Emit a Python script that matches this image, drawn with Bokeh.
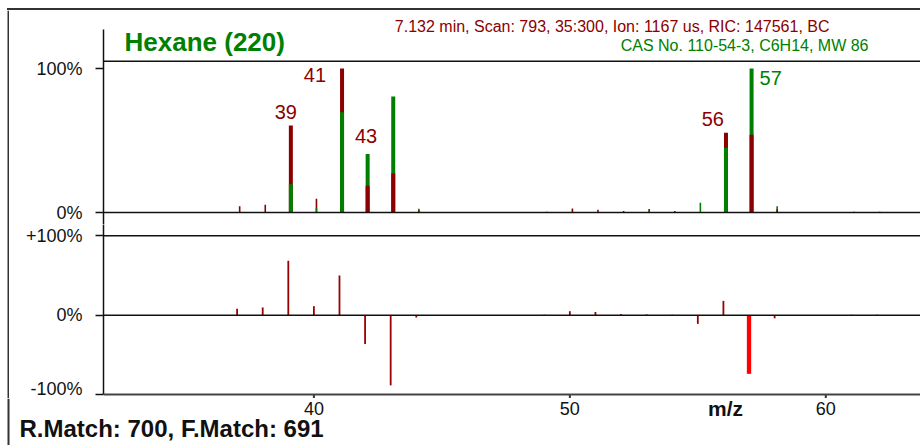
import numpy as np
from bokeh.plotting import figure
from bokeh.layouts import column, row
from bokeh.models import ColumnDataSource, Range1d, FixedTicker, Span, Label, BoxAnnotation, Div
from bokeh.embed import file_html
from bokeh.resources import INLINE

# ---- spectrum data (relative intensity, %) ----
mz = [37, 38, 39, 40, 41, 42, 43, 44, 49, 50, 51, 52, 53, 54, 55, 56, 57, 58, 61, 62]
sample = [4.3, 5.4, 60.4, 9.6, 100.0, 18.5, 27.0, 1.5, 0.5, 2.7, 1.9, 1.0, 2.4, 1.0,
          0.0, 55.3, 54.0, 2.3, 0.5, 0.5]
library = [0.0, 0.0, 19.7, 3.0, 69.7, 40.7, 80.5, 2.6, 0.0, 0.0, 0.0, 0.0, 1.5, 0.0,
           6.8, 45.0, 100.0, 4.3, 0.0, 0.0]
difference = [8.0, 9.7, 68.5, 11.3, 50.0, -36.5, -88.5, -3.0, 0.5, 5.0, 4.0, 1.5, 1.0, 0.5,
              -11.0, 18.0, -74.0, -4.0, 0.5, 0.5]
highlight_mz = 57

peak_labels = [39, 41, 43, 56, 57]
x_ticks = [40, 50, 60]
top_tick_labels = {0: "0%", 100: "100%"}
diff_tick_labels = {-100: "-100%", 0: "0%", 100: "+100%"}

compound = "Hexane (220)"
scan_info = "7.132 min, Scan: 793, 35:300, Ion: 1167 us, RIC: 147561, BC"
cas_info = "CAS No. 110-54-3, C6H14, MW 86"
match_info = "R.Match: 700, F.Match: 691"
x_title = "m/z"

# ---- styling ----
FONT = "Liberation Sans"
SAMPLE_COLOR = "#8b0000"
LIB_COLOR = "#008000"
DIFF_COLOR = "#9a0000"
HIGHLIGHT_COLOR = "#ff0000"
INK = "#111111"
FRAME_INK = "#333333"

W = 920                 # page width
PAD_L, PAD_T = 9, 10    # outer frame strips
MAIN_W = W - PAD_L
AXIS_W = 94             # room for the y axes
TOP_H, BOT_H, FOOT_H = 214, 174, 47
X_RANGE = (31.78, 63.70)
TOP_SHIFT = 0.1         # stick spectrum is drawn slightly right of the tick grid
TOP_BOX = 105           # upper edge of the spectrum box, in %
DIFF_RANGE = (-105.04, 114.24)

# label placement: (align, x offset px, y offset px) relative to the peak top
label_place = {39: ("center", -5, 14), 41: ("right", -16, -6), 43: ("right", -16, -39),
               56: ("right", -2, 14), 57: ("left", 8, -9)}
label_colors = {39: SAMPLE_COLOR, 41: SAMPLE_COLOR, 43: SAMPLE_COLOR, 56: SAMPLE_COLOR, 57: LIB_COLOR}


def style_common(p):
    p.grid.visible = False
    p.outline_line_color = None
    p.background_fill_color = "white"
    p.border_fill_color = "white"


def bare(width, height, xr, yr):
    p = figure(width=width, height=height, x_range=xr, y_range=yr,
               output_backend="svg", toolbar_location=None,
               x_axis_location=None, y_axis_location=None,
               min_border_left=0, min_border_right=0, min_border_top=0, min_border_bottom=0)
    style_common(p)
    return p


def style_yaxis(ax, labels):
    ax.ticker = FixedTicker(ticks=list(labels.keys()))
    ax.major_label_overrides = labels
    ax.major_tick_in = 0
    ax.major_tick_out = 8
    ax.minor_tick_line_color = None
    ax.major_tick_line_width = 1.5
    ax.major_tick_line_color = INK
    ax.axis_line_width = 1.5
    ax.axis_line_color = INK
    ax.major_label_standoff = 13
    ax.major_label_text_font = FONT
    ax.major_label_text_font_size = "18px"
    ax.major_label_text_color = INK


# ---- outer frame lines ----
rule_top = Div(width=W - 7, height=2, margin=(PAD_T - 2, 0, 0, 7),
               styles={"background-color": FRAME_INK})
strip_left = bare(PAD_L, TOP_H + BOT_H, Range1d(0, PAD_L), Range1d(0, TOP_H + BOT_H))
strip_left.add_layout(BoxAnnotation(left=7, right=PAD_L,
                                    fill_color=FRAME_INK, fill_alpha=1, line_color=None))

# ---- upper panel: sample vs. library spectrum ----
top = figure(width=MAIN_W, height=TOP_H,
             x_range=Range1d(X_RANGE[0] - TOP_SHIFT, X_RANGE[1] - TOP_SHIFT),
             y_range=Range1d(-8.33, 140.28),
             output_backend="svg", toolbar_location=None, x_axis_location=None,
             min_border_left=AXIS_W, min_border_right=0, min_border_top=0, min_border_bottom=0)
style_common(top)
style_yaxis(top.yaxis[0], top_tick_labels)
top.yaxis[0].bounds = (-8.33, 127.08)

s = np.array(sample)
lib = np.array(library)
back = np.maximum(s, lib)
front = np.minimum(s, lib)
sample_on_top = s >= lib
bar_w = np.where(back >= 10, 4.0, 1.6)
bars = ColumnDataSource(dict(
    x=mz, zero=[0] * len(mz), back=back, front=front, w=bar_w,
    back_color=np.where(sample_on_top, SAMPLE_COLOR, LIB_COLOR),
    front_color=np.where(sample_on_top, LIB_COLOR, SAMPLE_COLOR),
))
top.segment(x0="x", y0="zero", x1="x", y1="back", line_color="back_color", line_width="w", source=bars)
top.segment(x0="x", y0="zero", x1="x", y1="front", line_color="front_color", line_width="w", source=bars)

top.add_layout(Span(location=0, dimension="width", line_color=INK, line_width=1.5))
top.add_layout(Span(location=TOP_BOX, dimension="width", line_color=INK, line_width=1.5))

for m in peak_labels:
    i = mz.index(m)
    align, dx, dy = label_place[m]
    top.add_layout(Label(x=m, y=max(sample[i], library[i]), text=str(m), x_offset=dx, y_offset=dy,
                         text_align=align, text_baseline="middle", text_font=FONT,
                         text_font_size="20px", text_color=label_colors[m]))

top.add_layout(Label(x=21, y=183, x_units="screen", y_units="screen", text=compound,
                     text_font=FONT, text_font_size="26px", text_font_style="bold",
                     text_color=LIB_COLOR, text_baseline="middle"))
top.add_layout(Label(x=726, y=198, x_units="screen", y_units="screen", text=scan_info,
                     text_font=FONT, text_font_size="16px", text_color=SAMPLE_COLOR,
                     text_align="right", text_baseline="middle"))
top.add_layout(Label(x=765, y=179, x_units="screen", y_units="screen", text=cas_info,
                     text_font=FONT, text_font_size="16px", text_color=LIB_COLOR,
                     text_align="right", text_baseline="middle"))

# ---- lower panel: difference spectrum ----
bot = figure(width=MAIN_W, height=BOT_H, x_range=Range1d(*X_RANGE), y_range=Range1d(*DIFF_RANGE),
             output_backend="svg", toolbar_location=None, x_axis_location=None,
             min_border_left=AXIS_W, min_border_right=0, min_border_top=0, min_border_bottom=0)
style_common(bot)
style_yaxis(bot.yaxis[0], diff_tick_labels)
bot.yaxis[0].bounds = (-100, DIFF_RANGE[1])

is_hl = np.array(mz) == highlight_mz
diff_src = ColumnDataSource(dict(
    x=mz, zero=[0] * len(mz), d=difference,
    c=np.where(is_hl, HIGHLIGHT_COLOR, DIFF_COLOR),
    w=np.where(is_hl, 4.3, 1.8),
))
bot.add_layout(Span(location=0, dimension="width", line_color=INK, line_width=1.5))
bot.add_layout(Span(location=100, dimension="width", line_color=INK, line_width=1.5))
bot.add_layout(Span(location=-100, dimension="width", line_color="#444444", line_width=2))
bot.segment(x0=x_ticks, y0=-100, x1=x_ticks, y1=DIFF_RANGE[0], line_color=FRAME_INK, line_width=2)
bot.segment(x0="x", y0="zero", x1="x", y1="d", line_color="c", line_width="w", source=diff_src)

# ---- footer: m/z tick labels, axis title and match scores ----
px_per_unit = (MAIN_W - AXIS_W) / (X_RANGE[1] - X_RANGE[0])
foot = bare(W, FOOT_H, Range1d(X_RANGE[0] - (PAD_L + AXIS_W) / px_per_unit, X_RANGE[1]), Range1d(0, 1))
foot.add_layout(BoxAnnotation(left=7, right=PAD_L, left_units="screen", right_units="screen",
                              fill_color=FRAME_INK, fill_alpha=1, line_color=None))
for t in x_ticks:
    foot.add_layout(Label(x=t, y=37, y_units="screen", text=str(t), text_font=FONT,
                          text_font_size="18px", text_color=INK, text_align="center",
                          text_baseline="middle"))
foot.add_layout(Label(x=725, y=37, x_units="screen", y_units="screen", text=x_title,
                      text_font=FONT, text_font_size="21px", text_font_style="bold",
                      text_color=INK, text_align="center", text_baseline="middle"))
foot.add_layout(Label(x=19, y=17, x_units="screen", y_units="screen", text=match_info,
                      text_font=FONT, text_font_size="24px", text_font_style="bold",
                      text_color=INK, text_baseline="middle"))

layout = column(rule_top, row(strip_left, column(top, bot, spacing=0), spacing=0), foot, spacing=0)
open("out.html", "w").write(file_html(layout, INLINE))
